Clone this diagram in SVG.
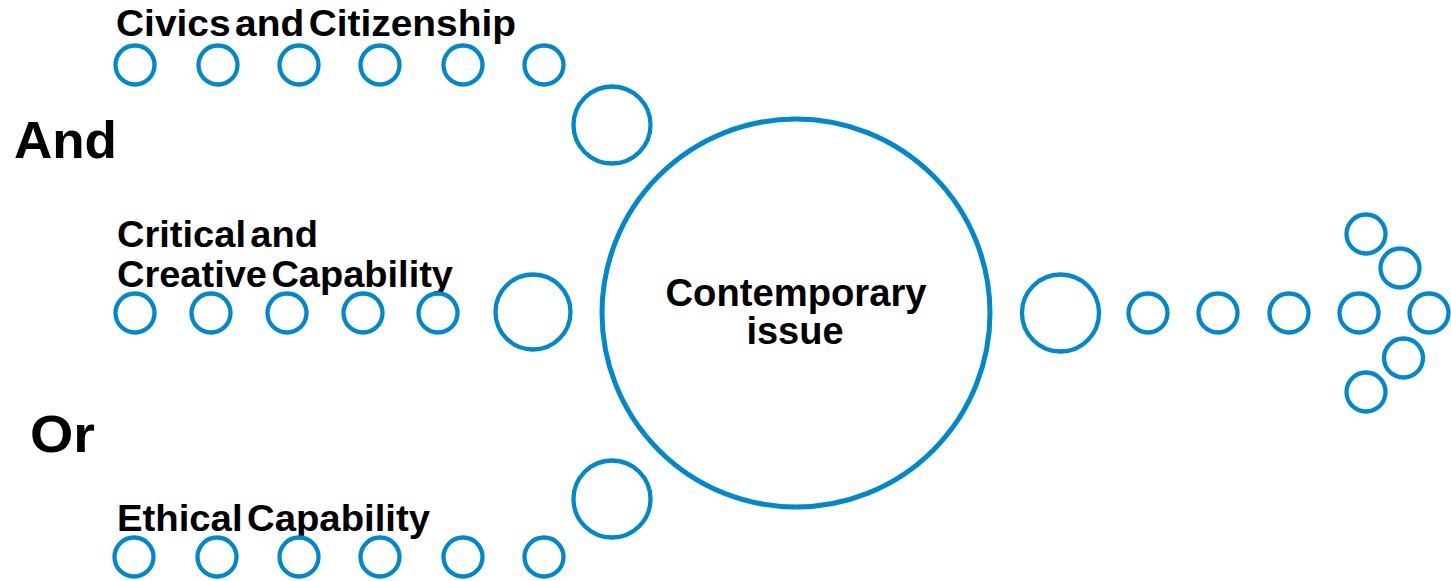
<svg xmlns="http://www.w3.org/2000/svg" width="1451" height="581" viewBox="0 0 1451 581">
<style>
  .c { fill: none; stroke: #0088cc; stroke-width: 4.3; }
  .main { fill: none; stroke: #0088cc; stroke-width: 5; }
  .lbl { font-family: "Liberation Sans", Arial, sans-serif; font-weight: bold; font-size: 37px; fill: #000; word-spacing: -6px; }
  .big { font-family: "Liberation Sans", Arial, sans-serif; font-weight: bold; font-size: 52px; fill: #000; }
  .ctr { font-family: "Liberation Sans", Arial, sans-serif; font-weight: bold; font-size: 38px; fill: #000; text-anchor: middle; }
</style>
<rect width="1451" height="581" fill="#ffffff"/>

<g id="labels">
  <text class="big" x="14" y="158" textLength="103" lengthAdjust="spacingAndGlyphs">And</text>
  <text class="big" x="30" y="452" textLength="65" lengthAdjust="spacingAndGlyphs">Or</text>
</g>

<g id="civics">
  <text class="lbl" x="116" y="36" textLength="400" lengthAdjust="spacingAndGlyphs">Civics and Citizenship</text>
  <circle class="c" cx="135" cy="65" r="19.5"/>
  <circle class="c" cx="218" cy="65" r="19.5"/>
  <circle class="c" cx="299" cy="65" r="19.5"/>
  <circle class="c" cx="380" cy="65" r="19.5"/>
  <circle class="c" cx="463" cy="65" r="19.5"/>
  <circle class="c" cx="544" cy="65" r="19.5"/>
  <circle class="c" cx="612" cy="125" r="38.5"/>
</g>

<g id="critical">
  <text class="lbl" x="117" y="247" textLength="201" lengthAdjust="spacingAndGlyphs">Critical and</text>
  <text class="lbl" x="117" y="287" textLength="336" lengthAdjust="spacingAndGlyphs">Creative Capability</text>
  <circle class="c" cx="135" cy="313" r="19.5"/>
  <circle class="c" cx="211" cy="313" r="19.5"/>
  <circle class="c" cx="287" cy="313" r="19.5"/>
  <circle class="c" cx="363" cy="313" r="19.5"/>
  <circle class="c" cx="438" cy="313" r="19.5"/>
  <circle class="c" cx="533" cy="312" r="37.5"/>
</g>

<g id="ethical">
  <text class="lbl" x="117" y="531" textLength="313" lengthAdjust="spacingAndGlyphs">Ethical Capability</text>
  <circle class="c" cx="134" cy="557" r="19.5"/>
  <circle class="c" cx="217" cy="557" r="19.5"/>
  <circle class="c" cx="299" cy="557" r="19.5"/>
  <circle class="c" cx="380" cy="557" r="19.5"/>
  <circle class="c" cx="463" cy="557" r="19.5"/>
  <circle class="c" cx="544" cy="557" r="19.5"/>
  <circle class="c" cx="612" cy="499" r="38.5"/>
</g>

<g id="contemporary">
  <circle class="main" cx="796" cy="313" r="194"/>
  <text class="ctr" x="796" y="306" textLength="261" lengthAdjust="spacingAndGlyphs">Contemporary</text>
  <text class="ctr" x="795" y="344">issue</text>
</g>

<g id="connectors">
  <circle class="c" cx="1060.5" cy="313" r="38.5"/>
  <circle class="c" cx="1148" cy="313" r="19.5"/>
  <circle class="c" cx="1218" cy="313" r="19.5"/>
  <circle class="c" cx="1289" cy="313" r="19.5"/>
  <circle class="c" cx="1359" cy="313" r="19.5"/>
  <circle class="c" cx="1429" cy="313" r="19.5"/>
  <circle class="c" cx="1366" cy="234" r="19.5"/>
  <circle class="c" cx="1400" cy="268" r="19.5"/>
  <circle class="c" cx="1403.5" cy="358" r="19.5"/>
  <circle class="c" cx="1366" cy="392" r="19.5"/>
</g>
</svg>
